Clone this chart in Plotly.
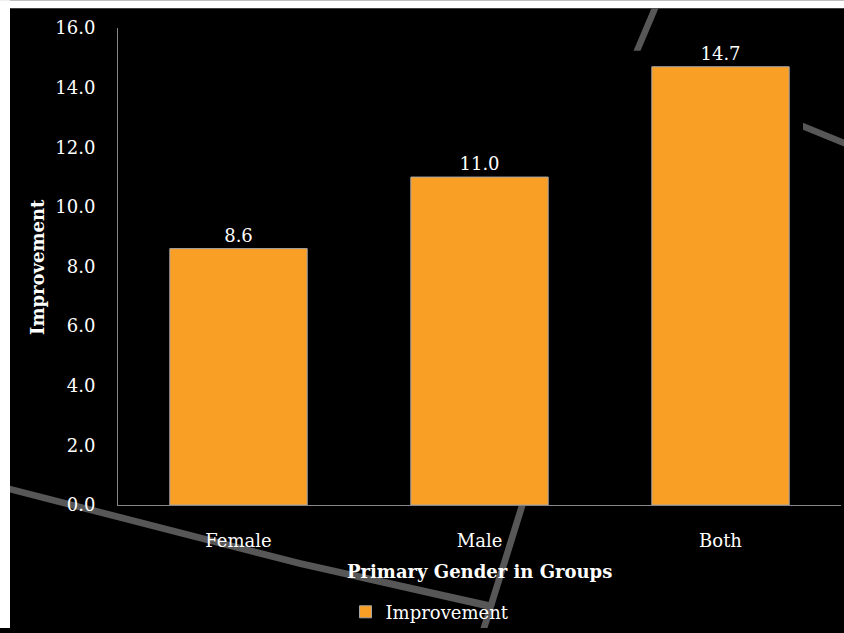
import plotly.graph_objects as go

categories = ["Female", "Male", "Both"]
improvement = [8.6, 11.0, 14.7]
y_ticks = [0, 2, 4, 6, 8, 10, 12, 14, 16]

W, H = 844, 633
L, R, T, B = 118, 841, 28, 509  # plot area in pixels


def px(x):
    return (x - L) / (R - L)


def py(y):
    return (B - y) / (B - T)


def poly(pts):
    return "M " + " L ".join(f"{px(x):.5f},{py(y):.5f}" for x, y in pts) + " Z"


FONT = "Rockwell, 'DejaVu Serif', serif"
FS = 18

fig = go.Figure()
fig.add_trace(go.Bar(
    x=categories, y=improvement, name="Improvement",
    marker=dict(color="#F99F25", line=dict(color="#A6A6A6", width=1)),
    texttemplate="%{y:.1f}", textposition="outside",
    textfont=dict(color="white", size=FS, family=FONT),
    cliponaxis=False, width=0.57,
))

shapes = []
# white strips at top and left
shapes.append(dict(type="rect", xref="paper", yref="paper", x0=px(0), x1=px(W), y0=py(0), y1=py(8),
                   fillcolor="white", line=dict(width=0), layer="below"))
shapes.append(dict(type="rect", xref="paper", yref="paper", x0=px(0), x1=px(10), y0=py(0), y1=py(H),
                   fillcolor="white", line=dict(width=0), layer="below"))
# decorative gray strokes as filled polygons kept inside the page
strokes = [
    [(10, 489.5), (300, 564.5), (490, 607), (490, 615), (300, 571.5), (10, 496.5)],
    [(518.5, 510), (525.5, 510), (487.5, 633), (480.5, 633)],
    [(651.5, 8), (658.5, 8), (640.5, 51), (633.5, 51)],
    [(803, 123.5), (844, 140.5), (844, 147.5), (803, 130.5)],
]
for pts in strokes:
    shapes.append(dict(type="path", xref="paper", yref="paper", path=poly(pts),
                       fillcolor="#575757", line=dict(width=0), layer="below"))

annotations = [
    dict(text="<b>Primary Gender in Groups</b>", xref="paper", yref="paper", x=px(479), y=py(576),
         showarrow=False, xanchor="center", yanchor="middle", font=dict(color="white", size=FS, family=FONT)),
    dict(text="<b>Improvement</b>", xref="paper", yref="paper", x=px(38), y=py(269), textangle=-90,
         showarrow=False, xanchor="center", yanchor="middle", font=dict(color="white", size=FS, family=FONT)),
]

fig.update_layout(
    width=W, height=H,
    margin=dict(l=L, r=W - R, t=T, b=H - B),
    paper_bgcolor="black", plot_bgcolor="rgba(0,0,0,0)",
    font=dict(family=FONT, color="white", size=FS),
    bargap=0.43,
    shapes=shapes, annotations=annotations,
    showlegend=True,
    legend=dict(orientation="h", x=px(430), xanchor="center", y=py(617), yanchor="middle",
                font=dict(color="white", size=FS, family=FONT), bgcolor="rgba(0,0,0,0)"),
    xaxis=dict(showline=True, linecolor="#868686", linewidth=1, showgrid=False, ticks="",
               ticklabelstandoff=19, tickfont=dict(color="white", size=FS, family=FONT)),
    yaxis=dict(range=[0, 16], tickvals=y_ticks, tickformat=".1f", showline=True, linecolor="#868686",
               linewidth=1, showgrid=False, zeroline=False, ticks="", ticklabelstandoff=18,
               tickfont=dict(color="white", size=FS, family=FONT)),
)

fig.write_html("out.html",
               post_script="document.documentElement.style.background='black';"
                           "document.body.style.margin='0';document.body.style.background='black';")
